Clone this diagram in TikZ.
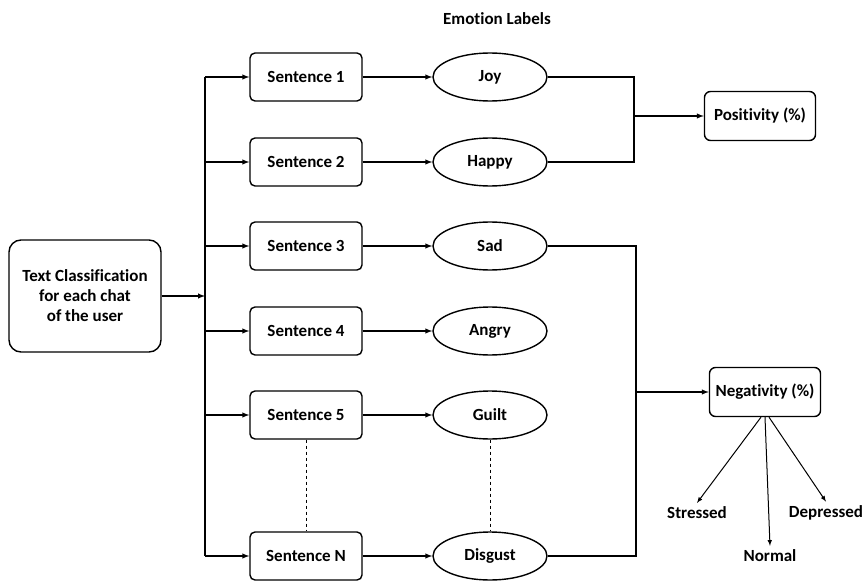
\documentclass[tikz,border=0pt]{standalone}
\usepackage{fontspec}
\setmainfont{Carlito}[Ligatures=NoCommon]
\usepackage{tikz}
\usetikzlibrary{shapes}
\usetikzlibrary{arrows}

\begin{document}
\begin{tikzpicture}[x=1pt,y=-1pt,line width=1.4pt,
    font=\bfseries\fontsize{17}{20}\selectfont,
    sentbox/.style={draw,rounded corners=5pt,minimum width=112pt,minimum height=48pt},
    emo/.style={draw,ellipse,minimum width=114pt,minimum height=48pt},
    outbox/.style={draw,rounded corners=6pt,minimum width=111pt,minimum height=49pt},
    conn/.style={-latex}]
    \useasboundingbox (0,0) rectangle (868,586);

    \node (hdr) at (497,19) {Emotion Labels};
    \node[draw,rounded corners=12pt,minimum width=152pt,minimum height=112pt,align=center] (txt) at (85,296)
        {Text Classification\\for each chat\\of the user};

    \foreach \n/\y/\e in {1/77/Joy,2/162/Happy,3/246/Sad,4/331/Angry,5/415/Guilt,N/556/Disgust} {
        \node[sentbox] (s\n) at (306,\y) {Sentence \n};
        \node[emo] (e\n) at (490,\y) {\e};
        \coordinate (b\n) at (205,\y);
        \draw[conn] (b\n) -- (s\n);
        \draw[conn] (s\n) -- (e\n);
    }
    \draw (b1) -- (bN);
    \draw[conn] (txt) -- (txt -| b1);

    % dotted links between 5 and N
    \draw[line width=0.8pt,dashed] (s5) -- (sN);
    \draw[line width=0.8pt,dashed] (e5) -- (eN);

    % positive side
    \node[outbox] (pos) at (760,116) {Positivity (\%)};
    \coordinate (pj) at (634,77);
    \coordinate (ph) at (634,162);
    \draw (e1) -- (pj) -- (ph) -- (e2);
    \draw[conn] (pos -| pj) -- (pos);

    % negative side
    \node[outbox] (neg) at (765,392) {Negativity (\%)};
    \coordinate (nj) at (636,246);
    \coordinate (nd) at (636,556);
    \draw (e3) -- (nj) -- (nd) -- (eN);
    \draw[conn] (neg -| nj) -- (neg);

    \node (str) at (697,513) {Stressed};
    \node (nrm) at (770,556) {Normal};
    \node (dep) at (826,513) {Depressed};
    \draw[conn,line width=1pt] ([xshift=-4]neg.south) -- (str.north);
    \draw[conn,line width=1pt] (neg.south) -- (nrm.north);
    \draw[conn,line width=1pt] ([xshift=4]neg.south) -- (dep.north);
\end{tikzpicture}
\end{document}
